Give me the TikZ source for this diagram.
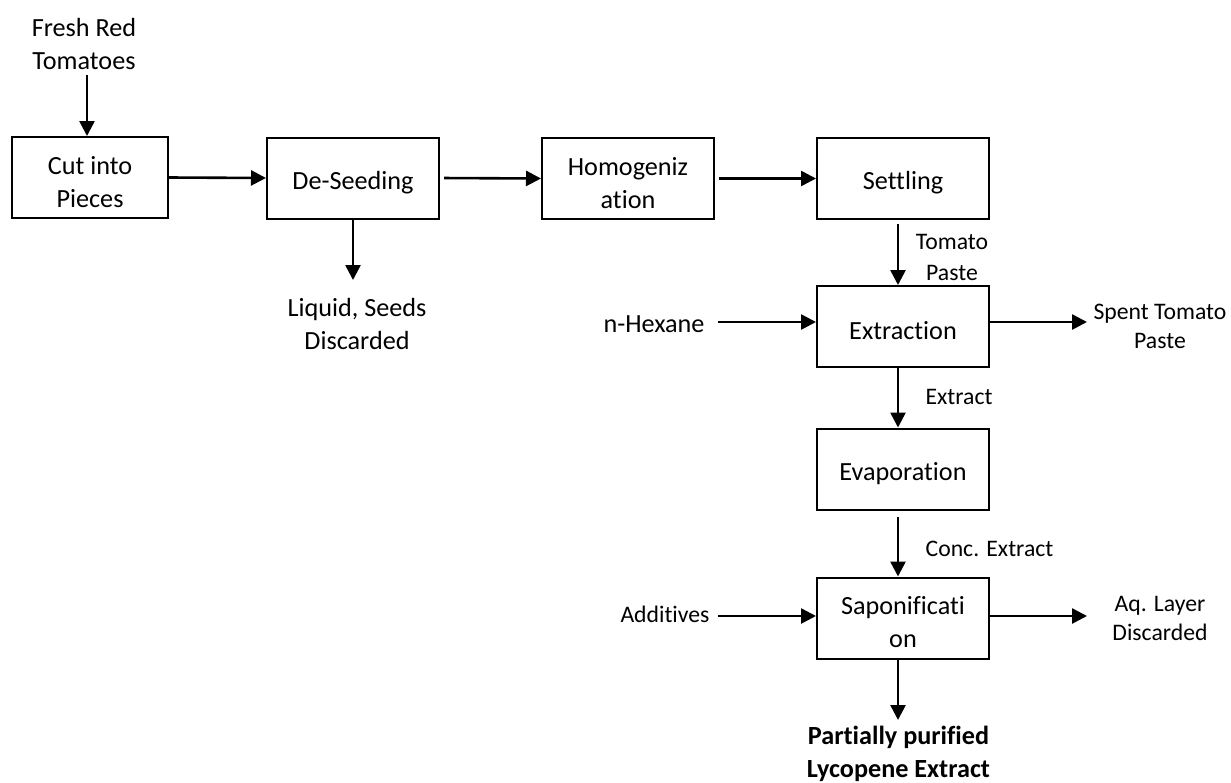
\documentclass[tikz,border=0pt]{standalone}
\usepackage{fontspec}
\setmainfont{Carlito}[Ligatures={NoCommon}]
\usetikzlibrary{arrows.meta}
\newcommand\boxstrut{\rule{0pt}{13.5pt}}
\begin{document}
\begin{tikzpicture}[x=0.5pt,y=-0.5pt,
  proc/.style={draw, line width=1pt, fill=white, minimum width=86pt, minimum height=40.5pt, inner sep=0pt, align=center, font=\fontsize{13.1}{16.5}\selectfont},
  big/.style={inner sep=0pt, align=center, font=\fontsize{13.1}{16.5}\selectfont},
  small/.style={inner sep=0pt, align=center, font=\fontsize{11.85}{14.5}\selectfont},
  arr/.style={line width=1.3pt, -{Triangle[length=7.5pt,width=7.5pt]}}]
\useasboundingbox (0,0) rectangle (1231,782);

% label drawn first (Tomato Paste sits just above the Extraction box)
\node[small, font=\fontsize{11.85}{15.5}\selectfont] (tpaste) at (952,257.5) {Tomato\\Paste};

% process boxes
\node[proc, minimum width=78pt] (cut) at (90,177.5) {\boxstrut Cut into\\Pieces};
\node[proc] (deseed) at (353,178) {\boxstrut De-Seeding};
\node[proc] (homog) at (628,178.5) {\boxstrut Homogeniz\\ation};
\node[proc] (settling) at (903,178.5) {\boxstrut Settling};
\node[proc] (extraction) at (903,326.5) {\boxstrut Extraction};
\node[proc] (evap) at (903,469) {\boxstrut Evaporation};
\node[proc] (sapon) at (903,618) {\boxstrut Saponificati\\on};

% other labels
\node[big] (fresh) at (84,43.5) {Fresh Red\\Tomatoes};
\node[big] (liquid) at (357,323.5) {Liquid, Seeds\\Discarded};
\node[big] (hexane) at (654,324) {n-Hexane};
\node[small] (spent) at (1160,326) {Spent Tomato\\Paste};
\node[small] (extract) at (959,397) {Extract};
\node[small] (conc) at (989.5,549) {Conc. Extract};
\node[small] (additives) at (665,614) {Additives};
\node[small] (aq) at (1160,618.5) {Aq. Layer\\Discarded};
\node[big, font=\fontsize{13.1}{16.5}\selectfont\bfseries] (product) at (898.5,753.5) {Partially purified\\Lycopene Extract};

% free ends
\coordinate (freshend) at (87,75);
\coordinate (liqtip) at (353,280);
\coordinate (hexend) at (718,322);
\coordinate (spenttip) at (1087,322);
\coordinate (addend) at (718,616);
\coordinate (aqtip) at (1087,616);
\coordinate (prodtip) at (898,720);

% connectors
\draw[arr] (freshend) -- (freshend |- cut.north);
\draw[arr] (cut.east) -- (deseed.west);
\draw[arr] (deseed.south) -- (liqtip);
\draw[arr, shorten <=2pt] (deseed.east) -- (homog.west);
\draw[arr, shorten <=2pt] (homog.east) -- (settling.west);
\draw[arr, shorten <=2pt] ([xshift=-2.5pt]settling.south) -- ([xshift=-2.5pt]extraction.north);
\draw[arr] (hexend) -- (hexend -| extraction.west);
\draw[arr] (spenttip -| extraction.east) -- (spenttip);
\draw[arr] ([xshift=-2.5pt]extraction.south) -- ([xshift=-2.5pt]evap.north);
\draw[arr, shorten <=3pt] ([xshift=-2.5pt]evap.south) -- ([xshift=-2.5pt]sapon.north);
\draw[arr] (addend) -- (addend -| sapon.west);
\draw[arr] (aqtip -| sapon.east) -- (aqtip);
\draw[arr] (prodtip |- sapon.south) -- (prodtip);
\end{tikzpicture}
\end{document}
